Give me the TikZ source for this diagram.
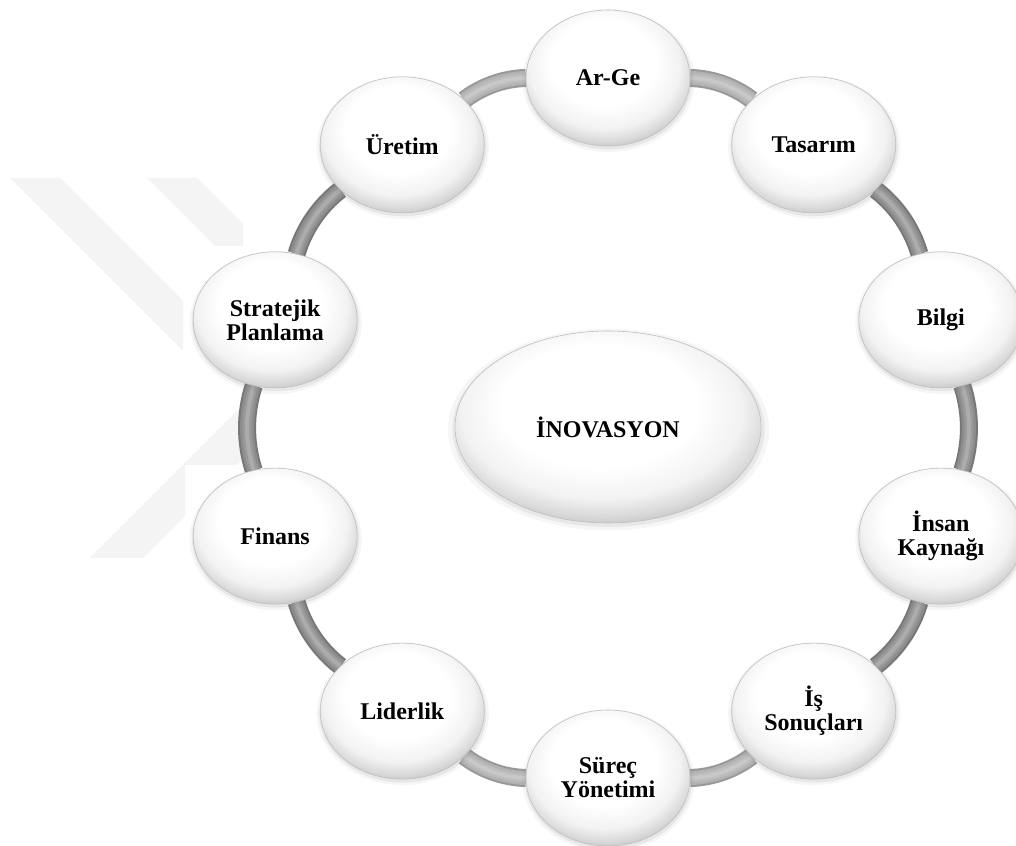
\documentclass[tikz,border=0pt]{standalone}
\usepackage{fontspec}
\setmainfont{Liberation Serif}
\usetikzlibrary{shapes.geometric,shadows}

\pgfdeclarelayer{back}
\pgfsetlayers{back,main}

% glossy fill for the bubbles: white top, grey rim at the bottom
\pgfdeclareradialshading{orbshade}{\pgfpoint{-2bp}{8bp}}{%
  color(0bp)=(white); color(16bp)=(white); color(23bp)=(gray!10);
  color(27bp)=(gray!30); color(31bp)=(gray!58); color(50bp)=(gray!58)}

\definecolor{wmark}{gray}{0.955}
\definecolor{tubemid}{gray}{0.55}
\definecolor{tubelight}{gray}{0.70}

\newcommand{\bubblefont}{\fontsize{24}{24}\selectfont\bfseries}

\tikzset{
  bubble/.style={ellipse, minimum width=164pt, minimum height=136pt,
    inner sep=0pt, shading=orbshade, draw=gray!50, line width=0.6pt,
    align=center, font=\bubblefont,
    drop shadow={opacity=0.07, shadow scale=1.05, shadow xshift=0.5pt, shadow yshift=-2.5pt},
    drop shadow={opacity=0.12, shadow scale=1.02, shadow xshift=0.5pt, shadow yshift=-2pt}},
  core/.style={bubble, minimum width=306pt, minimum height=192pt},
  % rounded grey tube: darker edges, soft lighter core
  tube/.style={line width=18pt, draw=#1!85!black,
    postaction={draw=#1, line width=14pt},
    postaction={draw=#1!88!white, line width=9pt},
    postaction={draw=#1!72!white, line width=4pt}}
}

\begin{document}
\begin{tikzpicture}[x=1pt, y=1pt]
  \clip (0,0) rectangle (1016,845);

  % white sheet and faint background emblem
  \begin{pgfonlayer}{back}
    \fill[white] (0,0) rectangle (1016,845);
    \fill[wmark] (10,667) -- (60,667) -- (183,544) -- (183,494) -- cycle;
    \fill[wmark] (147,667) -- (197,667) -- (243,621) -- (243,599) -- (215,599) -- cycle;
    \fill[wmark] (90,287) -- (143,287) -- (185,329) -- (185,380) -- (237,380)
      -- (243,386) -- (243,435) -- (238,435) -- cycle;
  \end{pgfonlayer}

  \coordinate (C) at (608,418);

  \node[core] (inov) at (C) {İNOVASYON};

  \begin{scope}[shift={(608,417)}]
    \node[bubble] (arge)     at (90:350)   {Ar-Ge};
    \node[bubble] (tasarim)  at (54:350)   {Tasarım};
    \node[bubble] (bilgi)    at (18:350)   {Bilgi};
    \node[bubble] (insan)    at (-18:350)  {İnsan\\Kaynağı};
    \node[bubble] (is)       at (-54:350)  {İş\\Sonuçları};
    \node[bubble] (surec)    at (-90:350)  {Süreç\\Yönetimi};
    \node[bubble] (liderlik) at (-126:350) {Liderlik};
    \node[bubble] (finans)   at (-162:350) {Finans};
    \node[bubble] (strateji) at (162:350)  {Stratejik\\Planlama};
    \node[bubble] (uretim)   at (126:350)  {Üretim};
  \end{scope}

  % ring of tubes linking neighbouring bubbles
  \begin{pgfonlayer}{back}
    \foreach \a/\b/\c in {arge/tasarim/tubelight, tasarim/bilgi/tubemid,
        bilgi/insan/tubemid, insan/is/tubemid, is/surec/tubelight,
        surec/liderlik/tubelight, liderlik/finans/tubemid,
        finans/strateji/tubemid, strateji/uretim/tubemid, uretim/arge/tubelight}
      \draw[tube=\c] (\a) to[bend left=18, looseness=0.87] (\b);
  \end{pgfonlayer}
\end{tikzpicture}
\end{document}
